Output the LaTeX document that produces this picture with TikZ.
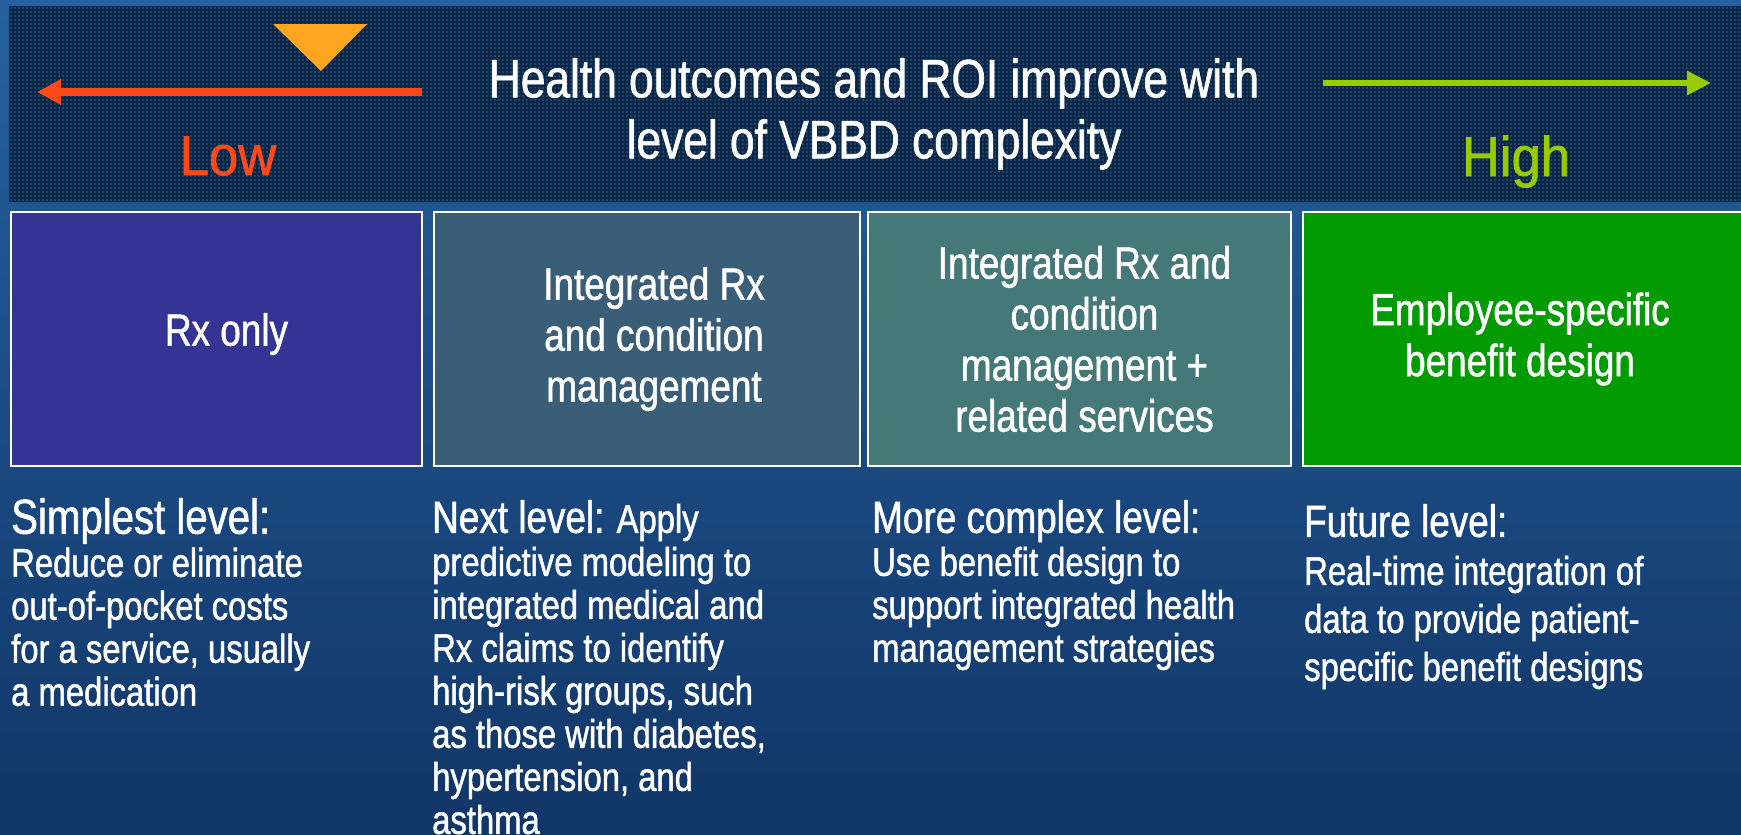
\documentclass[tikz,border=0pt]{standalone}
\usepackage{fontspec}
\setmainfont{Liberation Sans}[FakeStretch=0.82,FakeBold=1.2]
\newfontfamily\scalefont{Liberation Sans}[FakeStretch=0.94,FakeBold=1.2]
\usetikzlibrary{arrows.meta}

\definecolor{bgtop}{HTML}{2561A0}
\definecolor{bgbot}{HTML}{113566}
\definecolor{bannerfill}{HTML}{1A4471}
\definecolor{bannermesh}{HTML}{0C2645}
\definecolor{lowred}{HTML}{FF4A17}
\definecolor{highgreen}{HTML}{99CC00}
\definecolor{marker}{HTML}{FFA620}
\definecolor{boxA}{HTML}{343495}
\definecolor{boxB}{HTML}{3B5E78}
\definecolor{boxC}{HTML}{457878}
\definecolor{boxD}{HTML}{029B02}

\newcommand{\headfont}{\fontsize{45}{43}\selectfont}
\newcommand{\bigheadfont}{\fontsize{49}{43}\selectfont}

\tikzset{
  meshline/.style={draw=bannermesh, line width=1.3pt},
  titletext/.style={text=white, align=center, inner sep=0pt,
    font=\fontsize{54}{61}\selectfont},
  scalelabel/.style={inner sep=0pt, anchor=base, font=\scalefont\fontsize{56}{60}\selectfont},
  levelbox/.style={draw=white, line width=2.5pt, inner sep=0pt, minimum height=254pt},
  boxlabel/.style={text=white, align=center, inner sep=0pt,
    font=\fontsize{45}{51}\selectfont},
  coltext/.style={text=white, align=left, inner sep=0pt, anchor=north west,
    font=\fontsize{40}{43}\selectfont},
  lowarrow/.style={draw=lowred, line width=8pt, -{Triangle[length=24pt,width=24pt]}},
  higharrow/.style={draw=highgreen, line width=6pt, -{Triangle[length=24pt,width=23pt]}}
}

\begin{document}
\begin{tikzpicture}[x=1pt,y=-1pt]
\useasboundingbox (0,0) rectangle (1741,835);

% page background
\shade[top color=bgtop, bottom color=bgbot] (0,0) rectangle (1741,835);

% textured banner
\fill[bannerfill] (9,6) rectangle (1741,201);
\begin{scope}
  \clip (9,6) rectangle (1741,201);
  \foreach \x in {9,13,...,1741} \draw[meshline] (\x,6) -- (\x,201);
  \foreach \y in {6,10,...,202} \draw[meshline] (9,\y) -- (1741,\y);
\end{scope}

% marker on the scale
\fill[marker] (273,24) -- (367,24) -- (321,71) -- cycle;

% scale arrows
\coordinate (lowstart) at (422,92);
\coordinate (lowend) at (37,92);
\draw[lowarrow] (lowstart) -- (lowend);
\coordinate (highstart) at (1323,83);
\coordinate (highend) at (1711,83);
\draw[higharrow] (highstart) -- (highend);

\node[scalelabel, text=lowred] (low) at (228,175) {Low};
\node[scalelabel, text=highgreen] (high) at (1516,176) {High};

\node[titletext, anchor=north] (title) at (874,58)
  {Health outcomes and ROI improve with\\level of VBBD complexity};

% level boxes
\node[levelbox, fill=boxA, minimum width=411pt] (b1) at (216.5,339) {};
\node[levelbox, fill=boxB, minimum width=426pt] (b2) at (647,339) {};
\node[levelbox, fill=boxC, minimum width=423pt] (b3) at (1079.5,339) {};
\node[levelbox, fill=boxD, minimum width=442pt] (b4) at (1524,339) {};

\node[boxlabel, xshift=10pt, yshift=5pt] (t1) at (b1) {Rx only};
\node[boxlabel, xshift=7pt] (t2) at (b2) {Integrated Rx\\and condition\\management};
\node[boxlabel, xshift=5pt] (t3) at (b3) {Integrated Rx and\\condition\\management +\\related services};
\node[boxlabel, xshift=-4pt] (t4) at (b4) {Employee-specific\\benefit design};

% level descriptions
\node[coltext] (d1) at (11,498)
  {{\bigheadfont Simplest level:}\\Reduce or eliminate\\out-of-pocket costs\\for a service, usually\\a medication};
\node[coltext] (d2) at (432,500)
  {{\headfont Next level:} Apply\\predictive modeling to\\integrated medical and\\Rx claims to identify\\high-risk groups, such\\as those with diabetes,\\hypertension, and\\asthma};
\node[coltext] (d3) at (872,500)
  {{\headfont More complex level:}\\Use benefit design to\\support integrated health\\management strategies};
\node[coltext, font=\fontsize{40}{48}\selectfont] (d4) at (1304,504)
  {{\headfont Future level:}\\Real-time integration of\\data to provide patient-\\specific benefit designs};
\end{tikzpicture}
\end{document}
